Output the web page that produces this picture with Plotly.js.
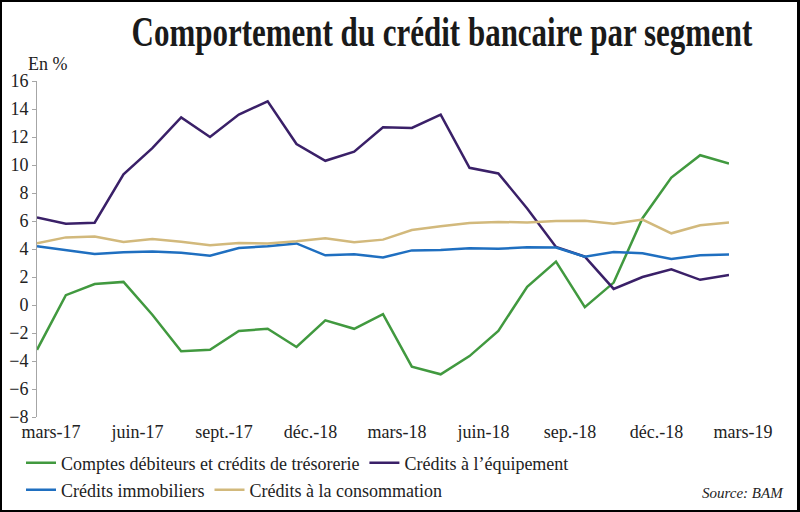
<!DOCTYPE html>
<html><head><meta charset="utf-8">
<script src="https://cdn.plot.ly/plotly-3.0.1.min.js"></script>
<style>
html,body{margin:0;padding:0;background:#fff}
#wrap{position:relative;width:800px;height:512px}
#chart{width:800px;height:512px}
#frame{position:absolute;left:0;top:0;width:800px;height:512px;border:2px solid #000;border-right-width:3px;box-sizing:border-box;pointer-events:none}
</style>
</head><body>
<div id="wrap"><div id="chart"></div><div id="frame"></div></div>
<script>
const months = ['mars-17','avr.-17','mai-17','juin-17','juil.-17','août-17','sept.-17','oct.-17','nov.-17','déc.-17',
  'janv.-18','févr.-18','mars-18','avr.-18','mai-18','juin-18','juil.-18','août-18','sept.-18','oct.-18','nov.-18','déc.-18',
  'janv.-19','févr.-19','mars-19'];
const tickLabels = ['mars-17','juin-17','sept.-17','déc.-18','mars-18','juin-18','sep.-18','déc.-18','mars-19'];
const comptes = [-3.2,0.7,1.5,1.65,-0.7,-3.3,-3.2,-1.85,-1.7,-3.0,-1.1,-1.7,-0.65,-4.4,-4.95,-3.65,-1.85,1.3,3.1,-0.15,1.6,6.2,9.1,10.7,10.1];
const equipement = [6.25,5.8,5.88,9.33,11.2,13.4,12.0,13.6,14.55,11.5,10.3,10.95,12.7,12.65,13.6,9.8,9.4,6.9,4.15,3.45,1.15,2.0,2.55,1.8,2.15];
const immobiliers = [4.2,3.93,3.64,3.76,3.83,3.74,3.52,4.07,4.2,4.4,3.55,3.62,3.4,3.9,3.93,4.05,4.02,4.12,4.1,3.45,3.79,3.69,3.29,3.55,3.6];
const consommation = [4.4,4.83,4.9,4.5,4.71,4.52,4.26,4.43,4.4,4.55,4.76,4.48,4.67,5.36,5.62,5.86,5.93,5.9,6.0,6.02,5.81,6.1,5.12,5.69,5.9];

const seriesNames = ['Comptes débiteurs et crédits de trésorerie','Crédits à l’équipement','Crédits immobiliers','Crédits à la consommation'];
const colors = ['#41993f','#3a2068','#1f6fc0','#d2b97c'];

const SERIF = 'Liberation Serif';
const L = 37, R = 71, T = 81, B = 95, W = 800 - L - R, H = 512 - T - B;
const px = x => (x - L) / W;
const py = y => (512 - B - y) / H;

const tickIdx = [];
for (let i = 0; i < months.length; i += 3) tickIdx.push(i);
const tickVals = tickIdx.map(i => months[i]);

const seriesData = [comptes, equipement, immobiliers, consommation];
const legendOf = ['legend','legend','legend2','legend2'];
const traces = seriesData.map((d, k) => ({
  x: months, y: d, type: 'scatter', mode: 'lines', name: seriesNames[k],
  line: {color: colors[k], width: 2.5}, legend: legendOf[k]
}));

const layout = {
  width: 800, height: 512,
  margin: {l: L, r: R, t: T, b: B},
  paper_bgcolor: '#fff', plot_bgcolor: '#fff',
  font: {family: SERIF, size: 18, color: '#222'},
  title: {text: '<b>Comportement du crédit bancaire par segment</b>', font: {family: SERIF, size: 42, color: '#1a1a1a'},
    xref: 'container', yref: 'container', x: 442/800, xanchor: 'center', y: 1 - 31/512, yanchor: 'middle'},
  xaxis: {type: 'category', range: [0, months.length - 1], tickvals: tickVals, ticktext: tickLabels,
    ticks: '', showline: false, showgrid: false, zeroline: false, ticklabelshift: 14, ticklabelstandoff: 2,
    tickfont: {family: SERIF, size: 18, color: '#222'}},
  xaxis2: {overlaying: 'x', anchor: 'free', position: (0 - (-8)) / 24, range: [0, months.length - 1],
    tickvals: tickIdx, showticklabels: false, ticks: 'outside', ticklen: 4, tickcolor: '#a6a6a6',
    showline: true, linecolor: '#a6a6a6', linewidth: 1, showgrid: false, zeroline: false},
  yaxis: {range: [-8, 16], dtick: 2, tick0: 0, showgrid: false, zeroline: false, showline: true,
    linecolor: '#a6a6a6', linewidth: 1, ticks: 'outside', ticklen: 4, tickcolor: '#a6a6a6',
    tickfont: {family: SERIF, size: 18, color: '#222'}},
  legend: {orientation: 'h', xref: 'container', yref: 'container', x: 21/800, xanchor: 'left',
    y: 1 - 463/512, yanchor: 'middle', bgcolor: 'rgba(0,0,0,0)', font: {family: SERIF, size: 18, color: '#222'},
    itemwidth: 30},
  legend2: {orientation: 'h', xref: 'container', yref: 'container', x: 21/800, xanchor: 'left',
    y: 1 - 490/512, yanchor: 'middle', bgcolor: 'rgba(0,0,0,0)', font: {family: SERIF, size: 18, color: '#222'},
    itemwidth: 30},
  annotations: [
    {text: 'En %', xref: 'paper', yref: 'paper', x: px(48), y: py(64), xanchor: 'center', yanchor: 'middle',
      showarrow: false, font: {family: SERIF, size: 18, color: '#222'}},
    {text: '<i>Source: BAM</i>', xref: 'paper', yref: 'paper', x: px(786), y: py(493), xanchor: 'right', yanchor: 'middle',
      showarrow: false, font: {family: SERIF, size: 15, color: '#222'}}
  ],
  showlegend: true
};

Plotly.newPlot('chart', traces, layout, {displayModeBar: false, staticPlot: true}).then(gd => {
  // horizontally condense the title so it spans the same width as the reference's condensed face
  const g = gd.querySelector('.g-gtitle');
  const t = gd.querySelector('.gtitle');
  if (g && t) {
    const bb = t.getBBox();
    const target = 621;
    const s = Math.min(1, target / bb.width);
    const cx = 442;
    g.setAttribute('transform', `translate(${cx},0) scale(${s},1) translate(${-cx},0)`);
  }
});
</script>
</body></html>
